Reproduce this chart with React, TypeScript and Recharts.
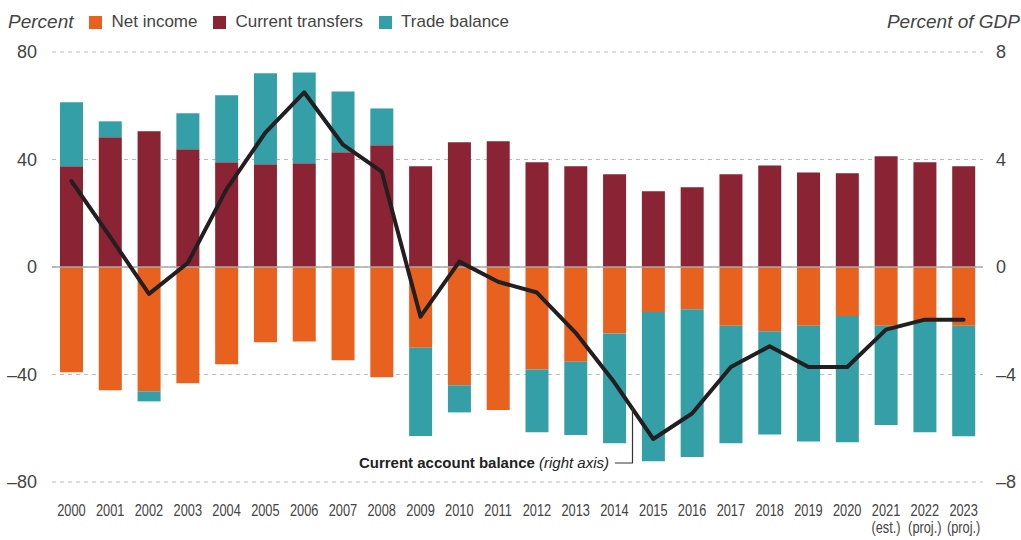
import React from "react";
import {
  ComposedChart,
  Bar,
  Line,
  XAxis,
  YAxis,
  CartesianGrid,
  ReferenceLine,
} from "recharts";

const years = ["2000","2001","2002","2003","2004","2005","2006","2007","2008","2009","2010","2011","2012","2013","2014","2015","2016","2017","2018","2019","2020","2021","2022","2023"];
const yearNotes = ["","","","","","","","","","","","","","","","","","","","","","(est.)","(proj.)","(proj.)"];
const netIncome = [-39.2,-45.9,-46.3,-43.3,-36.2,-28.0,-27.7,-34.7,-41.0,-30.0,-44.0,-53.2,-38.1,-35.3,-24.7,-16.7,-15.7,-21.9,-23.9,-21.9,-18.2,-21.9,-20.5,-21.9];
const currentTransfers = [37.5,48.3,50.5,43.8,39.0,38.2,38.6,42.7,45.3,37.5,46.4,46.8,39.0,37.5,34.5,28.2,29.7,34.5,37.8,35.2,34.9,41.2,39.0,37.5];
const tradeBalance = [23.8,5.9,-3.7,13.4,24.9,33.9,33.8,22.6,13.7,-32.9,-10.1,0,-23.4,-27.2,-40.9,-55.6,-55.0,-43.7,-38.4,-43.0,-47.0,-36.9,-41.0,-41.1];
const currentAccount = [3.2,1.12,-1.0,0.15,2.9,5.0,6.5,4.55,3.55,-1.85,0.2,-0.55,-0.95,-2.45,-4.3,-6.4,-5.45,-3.72,-2.95,-3.72,-3.72,-2.33,-1.96,-1.96];
const leftTicks = [-80,-40,0,40,80];
const rightTicks = [-8,-4,0,4,8];

const legendItems = [
  { label: "Net income", color: "#E8611F" },
  { label: "Current transfers", color: "#8A2333" },
  { label: "Trade balance", color: "#349FA6" },
];

const data = years.map((y, i) => ({
  year: y,
  note: yearNotes[i],
  netIncome: netIncome[i],
  currentTransfers: currentTransfers[i],
  tradeBalance: tradeBalance[i],
  currentAccount: currentAccount[i],
}));

const FONT = "'Liberation Sans', Arial, Helvetica, sans-serif";
const fmt = (v: number) => (v < 0 ? "\u2013" + Math.abs(v) : String(v));

const XTick = (props: any) => {
  const { x, y, payload, index } = props;
  const note = yearNotes[index] ?? "";
  return (
    <g transform={`translate(${x},${y}) scale(0.8,1)`}>
      <text x={0} y={34} textAnchor="middle" fontFamily={FONT} fontSize={16} fill="#444">
        {payload.value}
      </text>
      {note ? (
        <text x={0} y={51} textAnchor="middle" fontFamily={FONT} fontSize={16} fill="#444">
          {note}
        </text>
      ) : null}
    </g>
  );
};

export default function App() {
  return (
    <div style={{ position: "absolute", left: 0, top: 0, width: 1021, height: 540, background: "#fff", fontFamily: FONT }}>
      <div style={{ position: "absolute", left: 8, top: 11, display: "flex", alignItems: "center", fontSize: 17, color: "#444" }}>
        <span style={{ fontStyle: "italic", fontSize: 19, marginRight: 16 }}>Percent</span>
        {legendItems.map((it) => (
          <span key={it.label} style={{ display: "flex", alignItems: "center", marginRight: 16 }}>
            <span style={{ display: "inline-block", width: 13, height: 13, background: it.color, marginRight: 9 }} />
            {it.label}
          </span>
        ))}
      </div>
      <div style={{ position: "absolute", right: 1, top: 11, fontStyle: "italic", fontSize: 19, color: "#444" }}>
        Percent of GDP
      </div>
      <ComposedChart
        width={1021}
        height={540}
        data={data}
        stackOffset="sign"
        margin={{ top: 52, right: 0, bottom: 0, left: 0 }}
        barCategoryGap={0}
      >
        <CartesianGrid vertical={false} stroke="#bbb" strokeDasharray="4 4" yAxisId="left" />
        <XAxis
          dataKey="year"
          interval={0}
          tickLine={false}
          axisLine={false}
          tickSize={0}
          tickMargin={0}
          height={58}
          tick={<XTick />}
        />
        <YAxis
          yAxisId="left"
          orientation="left"
          domain={[-80, 80]}
          ticks={leftTicks}
          width={52}
          tickLine={false}
          axisLine={false}
          tickSize={0}
          tickMargin={15}
          tickFormatter={fmt}
          tick={{ fontSize: 18, fill: "#444", fontFamily: FONT }}
        />
        <YAxis
          yAxisId="right"
          orientation="right"
          domain={[-8, 8]}
          ticks={rightTicks}
          width={38}
          tickLine={false}
          axisLine={false}
          tickSize={0}
          tickMargin={13}
          tickFormatter={fmt}
          tick={{ fontSize: 18, fill: "#444", fontFamily: FONT, textAnchor: "start" }}
        />
        <Bar yAxisId="left" dataKey="netIncome" stackId="a" fill="#E8611F" barSize={23} isAnimationActive={false} />
        <Bar yAxisId="left" dataKey="currentTransfers" stackId="a" fill="#8A2333" barSize={23} isAnimationActive={false} />
        <Bar yAxisId="left" dataKey="tradeBalance" stackId="a" fill="#349FA6" barSize={23} isAnimationActive={false} />
        <ReferenceLine yAxisId="left" y={0} stroke="#aaa" strokeWidth={1.5} />
        <Line
          yAxisId="right"
          dataKey="currentAccount"
          type="linear"
          stroke="#231F20"
          strokeWidth={4}
          strokeLinecap="round"
          strokeLinejoin="round"
          dot={false}
          activeDot={false}
          isAnimationActive={false}
        />
      </ComposedChart>
      <svg style={{ position: "absolute", left: 0, top: 0, pointerEvents: "none" }} width={1021} height={540}>
        <polyline points="615,463 632.5,463 632.5,407" fill="none" stroke="#333" strokeWidth={1.2} />
        <text x={609} y={468} textAnchor="end" fontFamily={FONT} fontSize={15} fill="#222">
          <tspan fontWeight="bold">Current account balance </tspan>
          <tspan fontStyle="italic">(right axis)</tspan>
        </text>
      </svg>
    </div>
  );
}
